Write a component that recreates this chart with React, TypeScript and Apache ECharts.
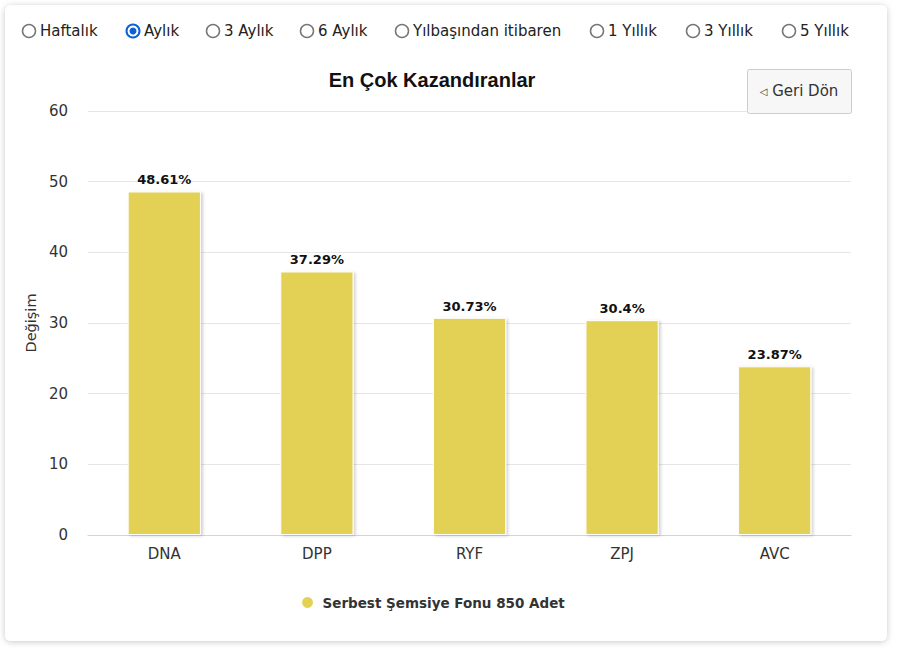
import React, { useEffect, useRef } from "react";
import * as echarts from "echarts";

const categories: string[] = ["DNA", "DPP", "RYF", "ZPJ", "AVC"];
const values: number[] = [48.61, 37.29, 30.73, 30.4, 23.87];
const seriesName = "Serbest Şemsiye Fonu 850 Adet";
const chartTitle = "En Çok Kazandıranlar";
const yAxisName = "Değişim";
const periods: string[] = ["Haftalık", "Aylık", "3 Aylık", "6 Aylık", "Yılbaşından itibaren", "1 Yıllık", "3 Yıllık", "5 Yıllık"];
const selectedPeriod = "Aylık";
const backLabel = "Geri Dön";

const radioX = [29, 133, 213, 307, 402, 597, 693, 789];

export default function App() {
  const ref = useRef<HTMLDivElement>(null);
  useEffect(() => {
    if (!ref.current) return;
    const chart = echarts.init(ref.current, undefined, { renderer: "svg" });
    const uiFont = "'DejaVu Sans', Verdana, sans-serif";
    const radios: any[] = [];
    periods.forEach((p, i) => {
      const cx = radioX[i];
      const sel = p === selectedPeriod;
      radios.push({
        type: "circle",
        shape: { cx, cy: 31, r: 6.5 },
        style: { fill: "#fff", stroke: sel ? "#0b62d6" : "#767676", lineWidth: sel ? 2 : 1.5 },
        z: 5,
      });
      if (sel) {
        radios.push({
          type: "circle",
          shape: { cx, cy: 31, r: 3.5 },
          style: { fill: "#0b62d6" },
          z: 6,
        });
      }
      radios.push({
        type: "text",
        x: cx + 11,
        y: 31,
        style: { text: p, fill: "#222", font: `15px ${uiFont}`, textVerticalAlign: "middle" },
        z: 5,
      });
    });

    chart.setOption({
      animation: false,
      backgroundColor: "#fff",
      title: {
        text: chartTitle,
        left: 427,
        top: 65,
        textAlign: "center",
        textStyle: { fontFamily: "'Liberation Sans', Arial, sans-serif", fontSize: 20, fontWeight: "bold", color: "#111" },
      },
      grid: { left: 88, right: 49, top: 111, bottom: 115 },
      legend: {
        left: 295,
        top: 590,
        icon: "circle",
        itemWidth: 20,
        itemHeight: 13,
        textStyle: { fontFamily: uiFont, fontSize: 13.5, fontWeight: "bold", color: "#333" },
        data: [seriesName],
      },
      xAxis: {
        type: "category",
        data: categories,
        axisLine: { lineStyle: { color: "#ccd6eb" } },
        axisTick: { show: false },
        axisLabel: { color: "#333", fontSize: 15, fontFamily: uiFont, margin: 11 },
      },
      yAxis: {
        type: "value",
        min: 0,
        max: 60,
        interval: 10,
        name: yAxisName,
        nameLocation: "middle",
        nameRotate: 90,
        nameGap: 50,
        nameTextStyle: { color: "#333", fontSize: 14.5, fontFamily: uiFont },
        axisLabel: { color: "#333", fontSize: 15, fontFamily: uiFont, margin: 20 },
        splitLine: { lineStyle: { color: "#e6e6e6" } },
        axisLine: { show: false },
        axisTick: { show: false },
      },
      series: [
        {
          name: seriesName,
          type: "bar",
          data: values,
          barWidth: "48%",
          itemStyle: {
            color: "#e3d157",
            borderColor: "#fff",
            borderWidth: 1,
            shadowColor: "rgba(0,0,0,0.18)",
            shadowBlur: 3,
            shadowOffsetX: 2,
            shadowOffsetY: 1,
          },
          label: {
            show: true,
            position: "top",
            distance: 5,
            formatter: (p: any) => `${p.value}%`,
            fontFamily: uiFont,
            fontSize: 13,
            fontWeight: "bold",
            color: "#111",
          },
        },
      ],
      graphic: [
        {
          type: "rect",
          z: -10,
          silent: true,
          shape: { x: 5, y: 5, width: 882, height: 636, r: 6 },
          style: { fill: "#fff", shadowBlur: 6, shadowColor: "rgba(0,0,0,0.22)", shadowOffsetY: 1 },
        },
        ...radios,
        {
          type: "rect",
          z: 5,
          shape: { x: 747.5, y: 69.5, width: 104, height: 44, r: 2 },
          style: { fill: "#f7f7f7", stroke: "#cccccc", lineWidth: 1 },
        },
        {
          type: "text",
          z: 6,
          x: 799,
          y: 91,
          style: {
            text: `{a|◁} ${backLabel}`,
            fill: "#333",
            font: `15px ${uiFont}`,
            textAlign: "center",
            textVerticalAlign: "middle",
            rich: { a: { fontSize: 10, fill: "#333", fontFamily: uiFont } },
          },
        },
      ],
    });
    return () => chart.dispose();
  }, []);
  return <div ref={ref} style={{ position: "fixed", left: 0, top: 0, width: 900, height: 650 }} />;
}
